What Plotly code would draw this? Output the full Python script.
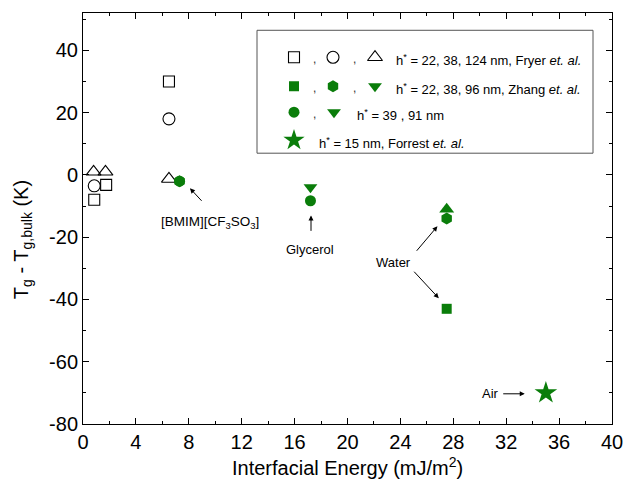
import plotly.graph_objects as go

# ---------------- data ----------------
fryer_sq_x = [0.85, 1.75, 6.5]
fryer_sq_y = [-8, -3.2, 30]
fryer_ci_x = [0.85, 6.5]
fryer_ci_y = [-3.5, 18]
fryer_tr_x = [0.8, 1.7, 6.5]
fryer_tr_y = [1, 1, -1.3]

zhang_sq_x = [27.5]
zhang_sq_y = [-43]
zhang_hex_x = [7.3, 27.5]
zhang_hex_y = [-2, -14]
zhang_tr_x = [27.5]
zhang_tr_y = [-11]

this_ci_x = [7.3, 17.2]
this_ci_y = [-2, -8.3]
this_tr_x = [17.2]
this_tr_y = [-4]

forrest_x = [35]
forrest_y = [-70]

x_ticks = [0, 4, 8, 12, 16, 20, 24, 28, 32, 36, 40]
y_ticks = [-80, -60, -40, -20, 0, 20, 40]

GREEN = "#0a7d0a"
FONT = "Liberation Sans, Arial, sans-serif"

# pixel layout helpers (plot area in page pixels)
L, R, T, B = 83, 612, 12.7, 424
W, H = 625, 481


def px(x):
    return (x - L) / (R - L)


def py(y):
    return (B - y) / (B - T)


fig = go.Figure()


def add(x, y, symbol, size, filled, color="black", xa="x", ya="y"):
    fig.add_trace(go.Scatter(
        x=x, y=y, mode="markers", xaxis=xa, yaxis=ya,
        marker=dict(symbol=symbol if filled else symbol + "-open", size=size,
                    color=color,
                    line=dict(color=color, width=0 if filled else 1.1)),
        showlegend=False, hoverinfo="skip"))


add(fryer_sq_x, fryer_sq_y, "square", 11, False)
add(fryer_ci_x, fryer_ci_y, "circle", 12, False)
add(fryer_tr_x, fryer_tr_y, "triangle-up", 13, False)
add(zhang_sq_x, zhang_sq_y, "square", 10, True, GREEN)
add(zhang_tr_x, zhang_tr_y, "triangle-up", 13, True, GREEN)
add(zhang_hex_x, zhang_hex_y, "hexagon", 12, True, GREEN)
add(this_tr_x, this_tr_y, "triangle-down", 12, True, GREEN)
add(this_ci_x, this_ci_y, "circle", 11, True, GREEN)
add(forrest_x, forrest_y, "star", 17, True, GREEN)

# ---------------- legend (drawn on an overlay paper axis) ----------------
leg_rows = [57, 86, 112, 140]
leg_syms = [
    [(294, "square", 11, False, "black"), (333, "circle", 12, False, "black"),
     (375, "triangle-up", 13, False, "black")],
    [(294, "square", 10, True, GREEN), (333, "hexagon", 12, True, GREEN),
     (375, "triangle-down", 12, True, GREEN)],
    [(294, "circle", 11, True, GREEN), (334, "triangle-down", 12, True, GREEN)],
    [(294, "star", 16, True, GREEN)],
]
leg_commas = [[314, 354], [314, 354], [314], []]
leg_text_x = [394, 394, 355, 317]
leg_texts = [
    "h<sup>*</sup> = 22, 38, 124 nm, Fryer <i>et. al.</i>",
    "h<sup>*</sup> = 22, 38, 96 nm, Zhang <i>et. al.</i>",
    "h<sup>*</sup> = 39 , 91 nm",
    "h<sup>*</sup> = 15 nm, Forrest <i>et. al.</i>",
]
for ry, syms in zip(leg_rows, leg_syms):
    for (sx, sym, sz, filled, col) in syms:
        add([px(sx)], [py(ry)], sym, sz, filled, col, xa="x2", ya="y2")

annotations = []
for ry, commas, tx, txt in zip(leg_rows, leg_commas, leg_text_x, leg_texts):
    for cx in commas:
        annotations.append(dict(x=px(cx), y=py(ry + 2), xref="paper", yref="paper",
                                xanchor="center", yanchor="middle",
                                text=",", showarrow=False, font=dict(size=12, family=FONT, color="#333")))
    annotations.append(dict(x=px(tx), y=py(ry), xref="paper", yref="paper",
                            xanchor="left", yanchor="middle", yshift=-3,
                            text=txt, showarrow=False, font=dict(size=13, family=FONT, color="black")))

# ---------------- labels with arrows ----------------
lab_font = dict(size=13, family=FONT, color="black")
arrow = dict(text="", showarrow=True, arrowhead=2, arrowsize=1, arrowwidth=1, arrowcolor="black")
annotations += [
    dict(x=9.6, y=-15.2, text="[BMIM][CF<sub>3</sub>SO<sub>3</sub>]", showarrow=False,
         font=dict(size=13.5, family=FONT, color="black")),
    dict(x=8.09, y=-4.3, ax=13, ay=14, **arrow),
    dict(x=17.2, y=-23.9, text="Glycerol", showarrow=False, font=lab_font),
    dict(x=17.24, y=-13, ax=0, ay=17, **arrow),
    dict(x=23.5, y=-28, text="Water", showarrow=False, font=lab_font),
    dict(x=26.8, y=-16.5, ax=-22, ay=26, **arrow),
    dict(x=26.9, y=-39.6, ax=-26, ay=-28, **arrow),
    dict(x=30.8, y=-70.3, text="Air", showarrow=False, font=lab_font),
    dict(x=33.4, y=-70.3, ax=-23, ay=0, **arrow),
    # axis titles
    dict(x=0.5, y=0, xref="paper", yref="paper", xanchor="center", yanchor="middle", yshift=-42,
         text="Interfacial Energy (mJ/m<sup>2</sup>)", showarrow=False,
         font=dict(size=20, family=FONT, color="black")),
    dict(x=0, y=py(240), xref="paper", yref="paper", xanchor="center", yanchor="middle",
         xshift=-61, textangle=-90,
         text="T<sub>g</sub> - T<sub>g,bulk</sub> (K)", showarrow=False,
         font=dict(size=20, family=FONT, color="black")),
]

axis_common = dict(showline=True, linecolor="black", linewidth=1, mirror="ticks",
                   ticks="inside", ticklen=6, tickwidth=1, tickcolor="black",
                   showgrid=False, zeroline=False, automargin=False,
                   tickfont=dict(size=20, family=FONT, color="black"))

fig.update_layout(
    width=W, height=H, autosize=False,
    margin=dict(l=L, r=W - R, t=T, b=H - B, pad=0),
    paper_bgcolor="white", plot_bgcolor="white",
    xaxis=dict(range=[0, 40], tickvals=x_ticks, ticktext=[str(v) for v in x_ticks],
               minor=dict(ticks="inside", dtick=2, ticklen=3, tickcolor="black"), **axis_common),
    yaxis=dict(range=[-80, 52], tickvals=y_ticks, ticktext=[str(v) for v in y_ticks],
               minor=dict(ticks="inside", dtick=10, ticklen=3, tickcolor="black"), **axis_common),
    xaxis2=dict(range=[0, 1], overlaying="x", visible=False, fixedrange=True),
    yaxis2=dict(range=[0, 1], overlaying="y", visible=False, fixedrange=True),
    shapes=[dict(type="rect", xref="paper", yref="paper",
                 x0=px(257), x1=px(593), y0=py(153), y1=py(30),
                 line=dict(color="#555", width=1), fillcolor="rgba(0,0,0,0)")],
    annotations=annotations,
    showlegend=False,
)

fig.write_html("out.html")
